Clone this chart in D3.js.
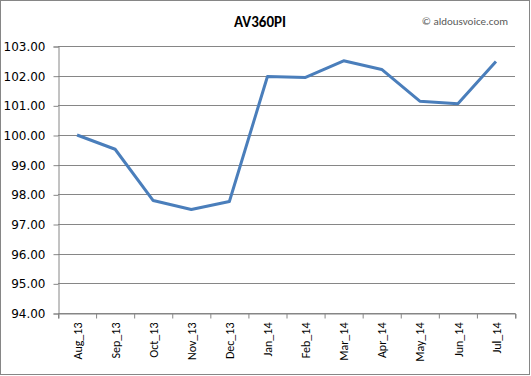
<!DOCTYPE html>
<html><head><meta charset="utf-8">
<script src="https://cdn.jsdelivr.net/npm/d3@7"></script>
<style>body{margin:0;background:#fff}svg{display:block}</style>
</head><body>
<script>
const categories = ["Aug_13","Sep_13","Oct_13","Nov_13","Dec_13","Jan_14","Feb_14","Mar_14","Apr_14","May_14","Jun_14","Jul_14"];
const values = [100.00, 99.52, 97.79, 97.49, 97.76, 101.97, 101.94, 102.50, 102.21, 101.14, 101.05, 102.48];
const yTicks = [94,95,96,97,98,99,100,101,102,103];
const title = "AV360PI";
const credit = "© aldousvoice.com";

const W = 531, H = 376;
const m = {left:58, right:16, top:46, bottom:63};
const svg = d3.select("body").append("svg").attr("width",W).attr("height",H);
svg.append("rect").attr("x",0.5).attr("y",0.5).attr("width",W-2).attr("height",H-2)
  .attr("fill","#fff").attr("stroke","#868686");

const x = d3.scaleBand().domain(categories).range([m.left, W-m.right]);
const y = d3.scaleLinear().domain([94,103]).range([H-m.bottom, m.top]);

// gridlines
svg.append("g").selectAll("line").data(yTicks).join("line")
  .attr("x1",m.left).attr("x2",W-m.right)
  .attr("y1",d=>Math.round(y(d))+0.5).attr("y2",d=>Math.round(y(d))+0.5)
  .attr("stroke","#868686").attr("stroke-width",1);

// y axis
const yAxis = d3.axisLeft(y).tickValues(yTicks).tickFormat(d3.format(".2f")).tickSize(5).tickPadding(8);
const gy = svg.append("g").attr("transform",`translate(${m.left+0.5},0.5)`).call(yAxis);
gy.select(".domain").attr("stroke","#868686");
gy.selectAll(".tick line").attr("stroke","#868686");
gy.selectAll("text").attr("font-family","Tahoma, 'DejaVu Sans', sans-serif").attr("font-size","12px").attr("fill","#000");

// x axis
const xAxis = d3.axisBottom(x).tickSize(5).tickSizeOuter(5).tickFormat(d=>d);
const gx = svg.append("g").attr("transform",`translate(0.5,${Math.round(y(94))+0.5})`).call(xAxis);
gx.select(".domain").attr("stroke","#868686");
gx.selectAll(".tick line").attr("stroke","#868686").attr("transform",`translate(${-x.bandwidth()/2},0)`);
gx.append("line").attr("x1",W-m.right).attr("x2",W-m.right).attr("y1",0).attr("y2",5).attr("stroke","#868686");
gx.selectAll(".tick text")
  .attr("font-family","Carlito, 'Open Sans', sans-serif").attr("font-size","12px").attr("fill","#000")
  .attr("transform","rotate(-90)").attr("text-anchor","end").attr("x",-9).attr("y",0).attr("dy","0.35em");

// line
const line = d3.line().x((d,i)=>x(categories[i])+x.bandwidth()/2).y(d=>y(d));
svg.append("path").datum(values).attr("d",line).attr("fill","none")
  .attr("stroke","#4a7ebb").attr("stroke-width",3).attr("stroke-linejoin","round");

svg.append("text").attr("x",260).attr("y",27).attr("text-anchor","middle")
  .attr("font-family","Carlito, 'Open Sans', sans-serif").attr("font-weight","bold").attr("font-size","15px").text(title);
svg.append("text").attr("x",508).attr("y",25).attr("text-anchor","end")
  .attr("font-family","Carlito, 'Open Sans', sans-serif").attr("font-size","11px").attr("fill","#595959").text(credit);
</script>
</body></html>
